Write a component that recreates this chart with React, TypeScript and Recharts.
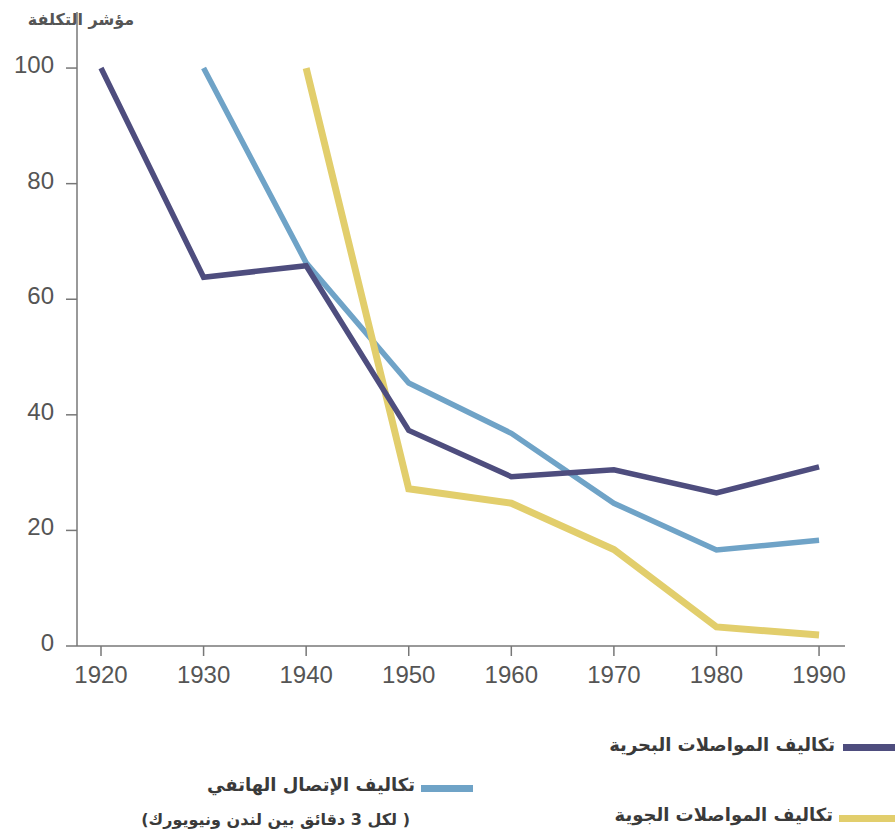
import React from 'react';
import { LineChart, Line, XAxis, YAxis } from 'recharts';

const years = [1920, 1930, 1940, 1950, 1960, 1970, 1980, 1990];
const seaCost = [100, 63.8, 65.8, 37.3, 29.3, 30.5, 26.5, 31];
const phoneCost = [null, 100, 66.3, 45.5, 36.8, 24.7, 16.6, 18.3];
const airCost = [null, null, 100, 27.2, 24.7, 16.7, 3.3, 1.9];
const yTicks = [0, 20, 40, 60, 80, 100];

const yTitle = 'مؤشر التكلفة';
const seaLabel = 'تكاليف المواصلات البحرية';
const phoneLabel = 'تكاليف الإتصال الهاتفي';
const phoneNote = '( لكل 3 دقائق بين لندن ونيويورك)';
const airLabel = 'تكاليف المواصلات الجوية';

const SEA = '#4e4d7e';
const PHONE = '#6fa3c7';
const AIR = '#e2ce6c';
const AXIS = '#777';
const TICKTXT = '#555';

const data = years.map((y, i) => ({
  year: y,
  sea: seaCost[i],
  phone: phoneCost[i],
  air: airCost[i],
}));

const YTick = (props: any) => {
  const { x, y, payload } = props;
  return (
    <text x={x} y={y + 5} textAnchor="end" fill={TICKTXT} fontSize={24} fontFamily="'Liberation Sans', Arial, sans-serif">
      {payload.value}
    </text>
  );
};

const XTick = (props: any) => {
  const { x, y, payload } = props;
  return (
    <text x={x} y={y + 17} textAnchor="middle" fill={TICKTXT} fontSize={24} fontFamily="'Liberation Sans', Arial, sans-serif">
      {payload.value}
    </text>
  );
};

const legendFont: React.CSSProperties = {
  position: 'absolute',
  direction: 'rtl',
  whiteSpace: 'nowrap',
  fontFamily: "'DejaVu Sans', sans-serif",
  fontWeight: 'bold',
  fontSize: 18,
  lineHeight: '20px',
  color: '#3a3a3a',
};

const swatch = (color: string, left: number, top: number, width: number): React.CSSProperties => ({
  position: 'absolute',
  left,
  top,
  width,
  height: 7,
  background: color,
});

export default function App() {
  return (
    <div style={{ position: 'absolute', left: 0, top: 0, width: 896, height: 837, background: '#fff', overflow: 'hidden' }}>
      <LineChart
        width={896}
        height={700}
        data={data}
        margin={{ top: 12, right: 51, left: 0, bottom: 14 }}
      >
        <XAxis
          dataKey="year"
          type="number"
          domain={[1917.66, 1992.53]}
          ticks={years}
          allowDataOverflow
          height={40}
          tickSize={10}
          tickMargin={10}
          stroke={AXIS}
          strokeWidth={1.5}
          tick={<XTick />}
        />
        <YAxis
          type="number"
          domain={[0, 109.7]}
          ticks={yTicks}
          allowDataOverflow
          width={77}
          tickSize={11}
          tickMargin={12}
          stroke={AXIS}
          strokeWidth={1.5}
          tick={<YTick />}
        />
        <Line dataKey="phone" stroke={PHONE} strokeWidth={5.5} dot={false} isAnimationActive={false} type="linear" />
        <Line dataKey="air" stroke={AIR} strokeWidth={7} dot={false} isAnimationActive={false} type="linear" />
        <Line dataKey="sea" stroke={SEA} strokeWidth={5.5} dot={false} isAnimationActive={false} type="linear" />
      </LineChart>

      <div style={{ ...legendFont, left: 25, top: 10, width: 112, textAlign: 'center', color: '#555', fontSize: 16 }}>{yTitle}</div>

      <div style={swatch(SEA, 843, 744, 52)} />
      <div style={{ ...legendFont, right: 896 - 835, top: 735 }}>{seaLabel}</div>

      <div style={swatch(PHONE, 421, 785, 52)} />
      <div style={{ ...legendFont, right: 896 - 415, top: 775 }}>{phoneLabel}</div>
      <div style={{ ...legendFont, right: 896 - 410, top: 810, fontSize: 16 }}>{phoneNote}</div>

      <div style={swatch(AIR, 839, 815, 56)} />
      <div style={{ ...legendFont, right: 896 - 833, top: 805 }}>{airLabel}</div>
    </div>
  );
}
